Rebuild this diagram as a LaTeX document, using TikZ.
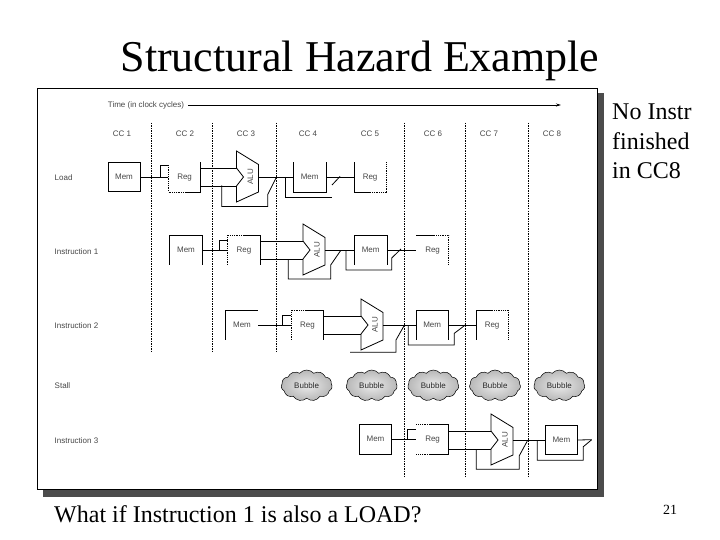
\documentclass[tikz,border=0pt]{standalone}
\usepackage{fontspec}
\setmainfont{Liberation Serif}
\setsansfont{Liberation Sans}
\usetikzlibrary{positioning,shapes.symbols,arrows.meta}
\tikzset{
  lab/.style={font=\sffamily\fontsize{8}{9}\selectfont, text=black!72, inner sep=0pt},
  stage/.style={lab, text height=6pt, text depth=1.5pt, minimum width=32pt, minimum height=29.5pt},
  fullstage/.style={stage, draw, line width=0.8pt},
  wire/.style={line width=0.8pt},
  dotwire/.style={line width=0.8pt, densely dotted},
  cut/.style={line width=0.6pt, dash pattern=on 1.5pt off 1pt},
  bubble/.style={lab, text=black!85, draw, line width=0.5pt, shape=cloud, cloud puffs=11, cloud puff arc=100, aspect=1.7, minimum width=51pt, minimum height=31pt, inner color=black!8, outer color=black!28},
  slidetext/.style={font=\fontsize{24}{29.5}\selectfont, inner sep=0pt, align=left},
  alu/.pic={
    \draw[wire] (-11,-26) -- (11,-12.5) -- (11,15) -- (-11,25) -- (-11,9) -- (-4,0) -- (-11,-9) -- cycle;
    \node[lab, rotate=90] (-name) at (3,0) {ALU};
    \coordinate (-ina) at (-11,-9);
    \coordinate (-inb) at (-11,9);
    \coordinate (-out) at (11,0);
  }
}
\begin{document}
\begin{tikzpicture}[x=1pt,y=-1pt]
\useasboundingbox (0,0) rectangle (720,540);
\fill[white] (0,0) rectangle (720,540);
% slide texts
\node [font=\fontsize{44}{48}\selectfont, inner sep=0pt] (title) at (360,61) {Structural Hazard Example};
\fill[black!70] (43,93) rectangle (604,497);
\draw[fill=white, line width=0.8pt] (37.5,88.5) rectangle (597,489);
\node [slidetext, anchor=north west] (note) at (612,104) {No Instr\\finished\\in CC8};
\node [slidetext, anchor=west] (question) at (54,514) {What if Instruction 1 is also a LOAD?};
\node [font=\fontsize{14}{16}\selectfont, inner sep=0pt] (pageno) at (670,510) {21};
% time axis
\node [lab] (time) at (146,105) {Time (in clock cycles)};
\coordinate (timeend) at (561,105);
\draw[wire, -{Stealth[length=5pt,width=3pt]}] (time.east)+(4,0) -- (timeend);
\node [lab] (cc1) at (122,134) {CC 1};
\node [lab] (cc2) at (185,134) {CC 2};
\node [lab] (cc3) at (246,134) {CC 3};
\node [lab] (cc4) at (308,134) {CC 4};
\node [lab] (cc5) at (370,134) {CC 5};
\node [lab] (cc6) at (433,134) {CC 6};
\node [lab] (cc7) at (489,134) {CC 7};
\node [lab] (cc8) at (552,134) {CC 8};
% clock dividers
\coordinate (cuta) at (151.3,123);
\coordinate (cutA) at (151.3,352);
\coordinate (cutb) at (212.3,123);
\coordinate (cutB) at (212.3,352);
\coordinate (cutc) at (276.3,123);
\coordinate (cutC) at (276.3,352);
\coordinate (cutd) at (404.3,123);
\coordinate (cutD) at (404.3,476);
\coordinate (cute) at (465.3,123);
\coordinate (cutE) at (465.3,476);
\coordinate (cutf) at (528.7,123);
\coordinate (cutF) at (528.7,476);
\draw[cut] (cuta) -- (cutA);
\draw[cut] (cutb) -- (cutB);
\draw[cut] (cutc) -- (cutC);
\draw[cut] (cutd) -- (cutD);
\draw[cut] (cute) -- (cutE);
\draw[cut] (cutf) -- (cutF);
% row names
\node [lab, anchor=west] (load) at (54.5,178) {Load};
\node [lab, anchor=west] (insta) at (54.5,252) {Instruction 1};
\node [lab, anchor=west] (instb) at (54.5,326) {Instruction 2};
\node [lab, anchor=west] (stall) at (54.5,386) {Stall};
\node [lab, anchor=west] (instc) at (54.5,441) {Instruction 3};
% load
\node [fullstage] (lmem) at (124,177) {Mem};
\node [stage, right=28pt of lmem] (lreg) {Reg};
\pic (lalu) at (247.5,177) {alu};
\node [stage, right=35pt of lalu-out] (lmemb) {Mem};
\node [stage, right=28pt of lmemb] (lregb) {Reg};
\draw[wire] (lmem.east) -- (lreg.west);
\draw[wire] (160.5,177) |- ([yshift=-3pt]lreg.north west);
\draw[dotwire] ([yshift=-3pt]lreg.north west) -- (lreg.south west) -- (lreg.south);
\draw[wire] (lreg.south) -- (lreg.south east) -- (lreg.north east);
\draw[wire] (lalu-ina -| lreg.east) -- (lalu-ina);
\draw[wire] (lalu-inb -| lreg.east) -- (lalu-inb);
\draw[wire] (lalu-out) -- (lmemb.west);
\draw[wire] (lmemb.north west) -- (lmemb.south west) -- (lmemb.south east) -- (lmemb.north east);
\draw[wire] (lmemb.east) -- (lregb.west);
\draw[wire] (lregb.north west) -- (lregb.south west) -- (lregb.south);
\draw[dotwire] (lregb.south) -- (lregb.south east) -- (lregb.north east);
\coordinate (lfwa) at (221.7,185.5);
\coordinate (lfwb) at (276.3,177.5);
\coordinate (lfwc) at (285,177);
\coordinate (lfwd) at (332,185);
\coordinate (lfwe) at (340,176.5);
\draw[wire] (lfwa) -- ++(0,21) -- ++(46,0) -- ++(0,-12) -- (lfwb);
\draw[wire] (lfwc) -- ++(0,20.3) -- ++(47,0);
\draw[wire] (lfwd) -- (lfwe);
% instruction 1
\node [stage] (amem) at (186,250) {Mem};
\node [stage, right=25.5pt of amem] (areg) {Reg};
\pic (aalu) at (314,250) {alu};
\node [stage, right=29.5pt of aalu-out] (amemb) {Mem};
\node [stage, right=29.5pt of amemb] (aregb) {Reg};
\draw[wire] (amem.south west) -- (amem.north west) -- (amem.north east) -- (amem.south east);
\draw[wire] (amem.east) -- (areg.west);
\draw[wire] (219.3,250) |- ([yshift=-5pt]areg.north west);
\draw[dotwire] (areg.south west) -- (areg.north west) -- (areg.north);
\draw[wire] (areg.north) -- (areg.north east) -- (areg.south east);
\draw[wire] (aalu-ina -| areg.east) -- (aalu-ina);
\draw[wire] (aalu-inb -| areg.east) -- (aalu-inb);
\draw[wire] (aalu-out) -- (amemb.west);
\draw[wire] (amemb.south west) -- (amemb.north west) -- (amemb.north east) -- (amemb.south east);
\draw[wire] (amemb.east) -- (aregb.west);
\draw[wire] (aregb.north west) -- (aregb.north);
\draw[dotwire] (aregb.north) -- (aregb.north east) -- (aregb.south east);
\coordinate (afwa) at (288.3,259);
\coordinate (afwb) at (340.7,250.5);
\coordinate (afwc) at (346,250);
\coordinate (afwd) at (401,249);
\draw[wire] (afwa) -- ++(0,20) -- ++(42.4,0) -- ++(0,-14) -- (afwb);
\draw[wire] (afwc) -- ++(0,20) -- ++(45.7,0) -- ++(0,-12) -- (afwd);
% instruction 2
\node [stage] (bmem) at (242,325) {Mem};
\node [stage, right=33pt of bmem] (breg) {Reg};
\pic (balu) at (372,325) {alu};
\node [stage, right=33pt of balu-out] (bmemb) {Mem};
\node [stage, right=27.5pt of bmemb] (bregb) {Reg};
\draw[wire] (bmem.south west) -- (bmem.north west) -- (bmem.north east);
\draw[wire] (bmem.east) -- (breg.west);
\draw[wire] (282.3,325) |- ([yshift=-5pt]breg.north west);
\draw[dotwire] (breg.south west) -- (breg.north west) -- (breg.north);
\draw[wire] (breg.north) -- (breg.north east) -- (breg.south east);
\draw[wire] (balu-ina -| breg.east) -- (balu-ina);
\draw[wire] (balu-inb -| breg.east) -- (balu-inb);
\draw[wire] (balu-out) -- (bmemb.west);
\draw[wire] (bmemb.south west) -- (bmemb.north west) -- (bmemb.north east) -- (bmemb.south east);
\draw[wire] (bmemb.east) -- (bregb.west);
\draw[wire] (bregb.south west) -- (bregb.north west) -- (bregb.north);
\draw[dotwire] (bregb.north) -- (bregb.north east) -- (bregb.south east);
\coordinate (bfwa) at (350,352.3);
\coordinate (bfwb) at (404.3,325.3);
\coordinate (bfwc) at (408.3,325.3);
\coordinate (bfwd) at (465.3,325);
\draw[wire] (bfwa) -- ++(46,0) -- ++(0,-12.3) -- (bfwb);
\draw[wire] (bfwc) -- ++(0,19.7) -- ++(46,0) -- ++(0,-11.7) -- (bfwd);
% stall
\node [bubble] (bubblea) at (306.7,385.5) {Bubble};
\node [bubble] (bubbleb) at (371.7,385.5) {Bubble};
\node [bubble] (bubblec) at (433.3,385.5) {Bubble};
\node [bubble] (bubbled) at (495,385.5) {Bubble};
\node [bubble] (bubblee) at (559.3,385.5) {Bubble};
% instruction 3
\node [fullstage] (cmem) at (375.5,439.5) {Mem};
\node [stage, right=24.5pt of cmem] (creg) {Reg};
\pic (calu) at (502,440) {alu};
\node [fullstage, right=32pt of calu-out] (cmemb) {Mem};
\coordinate (cend) at (591.7,439.7);
\draw[wire] (cmem.east) -- (creg.west);
\draw[wire] (407.3,439.5) |- ([yshift=-5pt]creg.north west);
\draw[dotwire] (creg.north west) -- ([xshift=14pt]creg.north west);
\draw[dotwire] (creg.south west) -- ([xshift=14pt]creg.south west);
\draw[wire] ([xshift=14pt]creg.north west) -- (creg.north east) -- (creg.south east) -- ([xshift=14pt]creg.south west);
\draw[wire] (calu-ina -| creg.east) -- (calu-ina);
\draw[wire] (calu-inb -| creg.east) -- (calu-inb);
\draw[wire] (calu-out) -- (cmemb.west);
\draw[wire] (cmemb.east) -- (cend);
\coordinate (cfwa) at (476.3,449);
\coordinate (cfwb) at (527.3,441);
\coordinate (cfwc) at (537.3,440);
\draw[wire] (cfwa) -- ++(0,20.3) -- ++(43,0) -- ++(0,-13.6) -- (cfwb);
\draw[wire] (cfwc) -- ++(0,20.3) -- ++(46,0) -- ++(0,-13.6) -- (cend);
\end{tikzpicture}
\end{document}
